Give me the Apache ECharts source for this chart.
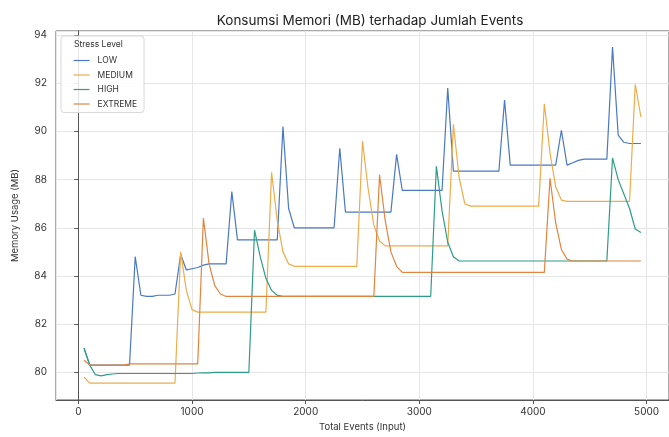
<!DOCTYPE html>
<html>
<head>
<meta charset="utf-8">
<script src="https://cdn.jsdelivr.net/npm/echarts@6/dist/echarts.min.js"></script>
<style>
  html, body { margin: 0; padding: 0; background: #ffffff; }
  #chart { width: 669px; height: 437px; }
</style>
</head>
<body>
<div id="chart"></div>
<script>
// Total events processed (x) for every sample
const events = [
  50, 100, 150, 200, 250, 300, 350, 400, 450, 500,
  550, 600, 650, 700, 750, 800, 850, 900, 950, 1000,
  1050, 1100, 1150, 1200, 1250, 1300, 1350, 1400, 1450, 1500,
  1550, 1600, 1650, 1700, 1750, 1800, 1850, 1900, 1950, 2000,
  2050, 2100, 2150, 2200, 2250, 2300, 2350, 2400, 2450, 2500,
  2550, 2600, 2650, 2700, 2750, 2800, 2850, 2900, 2950, 3000,
  3050, 3100, 3150, 3200, 3250, 3300, 3350, 3400, 3450, 3500,
  3550, 3600, 3650, 3700, 3750, 3800, 3850, 3900, 3950, 4000,
  4050, 4100, 4150, 4200, 4250, 4300, 4350, 4400, 4450, 4500,
  4550, 4600, 4650, 4700, 4750, 4800, 4850, 4900, 4950
];

// Memory usage (MB) per stress level
const memLow = [
  81.0, 80.3, 80.3, 80.3, 80.3, 80.3, 80.3, 80.3, 80.3, 84.8,
  83.2, 83.15, 83.15, 83.2, 83.2, 83.2, 83.25, 84.9, 84.25, 84.3,
  84.35, 84.45, 84.5, 84.5, 84.5, 84.5, 87.5, 85.5, 85.5, 85.5,
  85.5, 85.5, 85.5, 85.5, 85.5, 90.2, 86.8, 86.0, 86.0, 86.0,
  86.0, 86.0, 86.0, 86.0, 86.0, 89.3, 86.65, 86.65, 86.65, 86.65,
  86.65, 86.65, 86.65, 86.65, 86.65, 89.05, 87.55, 87.55, 87.55, 87.55,
  87.55, 87.55, 87.55, 87.55, 91.8, 88.35, 88.35, 88.35, 88.35, 88.35,
  88.35, 88.35, 88.35, 88.35, 91.3, 88.6, 88.6, 88.6, 88.6, 88.6,
  88.6, 88.6, 88.6, 88.6, 90.05, 88.6, 88.7, 88.8, 88.85, 88.85,
  88.85, 88.85, 88.85, 93.5, 89.85, 89.55, 89.5, 89.5, 89.5
];

const memMedium = [
  79.8, 79.55, 79.55, 79.55, 79.55, 79.55, 79.55, 79.55, 79.55, 79.55,
  79.55, 79.55, 79.55, 79.55, 79.55, 79.55, 79.55, 85.0, 83.4, 82.6,
  82.5, 82.5, 82.5, 82.5, 82.5, 82.5, 82.5, 82.5, 82.5, 82.5,
  82.5, 82.5, 82.5, 88.3, 86.3, 85.0, 84.5, 84.4, 84.4, 84.4,
  84.4, 84.4, 84.4, 84.4, 84.4, 84.4, 84.4, 84.4, 84.4, 89.6,
  87.6, 86.1, 85.45, 85.25, 85.25, 85.25, 85.25, 85.25, 85.25, 85.25,
  85.25, 85.25, 85.25, 85.25, 85.25, 90.3, 88.1, 87.0, 86.9, 86.9,
  86.9, 86.9, 86.9, 86.9, 86.9, 86.9, 86.9, 86.9, 86.9, 86.9,
  86.9, 91.15, 89.1, 87.7, 87.15, 87.1, 87.1, 87.1, 87.1, 87.1,
  87.1, 87.1, 87.1, 87.1, 87.1, 87.1, 87.1, 91.95, 90.6
];

const memHigh = [
  81.0, 80.3, 79.9, 79.85, 79.9, 79.93, 79.95, 79.95, 79.95, 79.95,
  79.95, 79.95, 79.95, 79.95, 79.95, 79.95, 79.95, 79.95, 79.95, 79.95,
  79.97, 79.98, 79.98, 80.0, 80.0, 80.0, 80.0, 80.0, 80.0, 80.0,
  85.9, 84.8, 83.9, 83.4, 83.2, 83.15, 83.15, 83.15, 83.15, 83.15,
  83.15, 83.15, 83.15, 83.15, 83.15, 83.15, 83.15, 83.15, 83.15, 83.15,
  83.15, 83.15, 83.15, 83.15, 83.15, 83.15, 83.15, 83.15, 83.15, 83.15,
  83.15, 83.15, 88.55, 86.7, 85.4, 84.8, 84.62, 84.62, 84.62, 84.62,
  84.62, 84.62, 84.62, 84.62, 84.62, 84.62, 84.62, 84.62, 84.62, 84.62,
  84.62, 84.62, 84.62, 84.62, 84.62, 84.62, 84.62, 84.62, 84.62, 84.62,
  84.62, 84.62, 84.62, 88.9, 88.0, 87.4, 86.8, 85.95, 85.8
];

const memExtreme = [
  80.5, 80.3, 80.3, 80.3, 80.3, 80.3, 80.3, 80.3, 80.35, 80.35,
  80.35, 80.35, 80.35, 80.35, 80.35, 80.35, 80.35, 80.35, 80.35, 80.35,
  80.35, 86.4, 84.5, 83.6, 83.25, 83.15, 83.15, 83.15, 83.15, 83.15,
  83.15, 83.15, 83.15, 83.15, 83.15, 83.15, 83.15, 83.15, 83.15, 83.15,
  83.15, 83.15, 83.15, 83.15, 83.15, 83.15, 83.15, 83.15, 83.15, 83.15,
  83.15, 83.15, 88.2, 86.3, 85.0, 84.4, 84.15, 84.15, 84.15, 84.15,
  84.15, 84.15, 84.15, 84.15, 84.15, 84.15, 84.15, 84.15, 84.15, 84.15,
  84.15, 84.15, 84.15, 84.15, 84.15, 84.15, 84.15, 84.15, 84.15, 84.15,
  84.15, 84.15, 88.05, 86.2, 85.1, 84.7, 84.62, 84.62, 84.62, 84.62,
  84.62, 84.62, 84.62, 84.62, 84.62, 84.62, 84.62, 84.62, 84.62
];

const levelNames = ['LOW', 'MEDIUM', 'HIGH', 'EXTREME'];
const levelColors = ['#4a78c4', '#eeac4a', '#2e9c88', '#e0853f'];
const levelData = [memLow, memMedium, memHigh, memExtreme];

const FONT = 'Inter, "Noto Sans", sans-serif';
const chart = echarts.init(document.getElementById('chart'), null, { renderer: 'canvas' });

const series = levelNames.map((name, k) => ({
  name: name,
  type: 'line',
  symbol: 'none',
  smooth: false,
  color: levelColors[k],
  lineStyle: { width: 1.2, color: levelColors[k] },
  data: events.map((e, i) => [e, levelData[k][i]]),
  z: 3 + k
}));

const plainNumber = v => String(Math.round(v));

chart.setOption({
  animation: false,
  backgroundColor: '#ffffff',
  title: [
    {
      text: 'Konsumsi Memori (MB) terhadap Jumlah Events',
      left: 365, top: 9, textAlign: 'center',
      textStyle: { fontFamily: FONT, fontSize: 13.5, fontWeight: 'normal', color: '#222' }
    },
    {
      text: 'Stress Level',
      left: 74, top: 40, z: 20,
      padding: 0,
      textStyle: { fontFamily: FONT, fontSize: 8.5, fontWeight: 'normal', color: '#333' }
    }
  ],
  legend: {
    data: levelNames,
    orient: 'vertical',
    left: 61, top: 36,
    padding: [20, 7, 4, 12],
    itemWidth: 16, itemHeight: 10, itemGap: 5.5,
    itemStyle: { opacity: 0 },
    lineStyle: { width: 1.2 },
    backgroundColor: 'rgba(255,255,255,0.85)',
    borderColor: '#d9d9d9', borderWidth: 1, borderRadius: 3,
    textStyle: { fontFamily: FONT, fontSize: 8.5, color: '#333', padding: [0, 0, 0, 3] }
  },
  grid: {
    left: 56, top: 31, right: -8, bottom: 36,
    show: true, borderColor: '#555', borderWidth: 1, backgroundColor: 'transparent'
  },
  xAxis: {
    type: 'value',
    min: -197, max: 5197,
    minInterval: 1000, maxInterval: 1000,
    name: 'Total Events (Input)',
    nameLocation: 'middle', nameGap: 22,
    nameTextStyle: { fontFamily: FONT, fontSize: 9.5, color: '#333' },
    axisLine: { show: true, lineStyle: { color: '#555', width: 1 } },
    axisTick: { show: true, length: 4, lineStyle: { color: '#555' } },
    axisLabel: { showMinLabel: false, showMaxLabel: false, margin: 7, formatter: plainNumber,
      fontFamily: FONT, fontSize: 10, color: '#333' },
    splitLine: { show: true, lineStyle: { color: '#e6e6e6', width: 1 } }
  },
  yAxis: {
    type: 'value',
    min: 78.85, max: 94.17,
    minInterval: 2, maxInterval: 2,
    name: 'Memory Usage (MB)',
    nameLocation: 'middle', nameGap: 36,
    nameTextStyle: { fontFamily: FONT, fontSize: 9.5, color: '#333' },
    axisLine: { show: true, lineStyle: { color: '#555', width: 1 } },
    axisTick: { show: true, length: 4, lineStyle: { color: '#555' } },
    axisLabel: { showMinLabel: false, showMaxLabel: false, margin: 9, formatter: plainNumber,
      fontFamily: FONT, fontSize: 10, color: '#333' },
    splitLine: { show: true, lineStyle: { color: '#e6e6e6', width: 1 } }
  },
  series: series
});
</script>
</body>
</html>
